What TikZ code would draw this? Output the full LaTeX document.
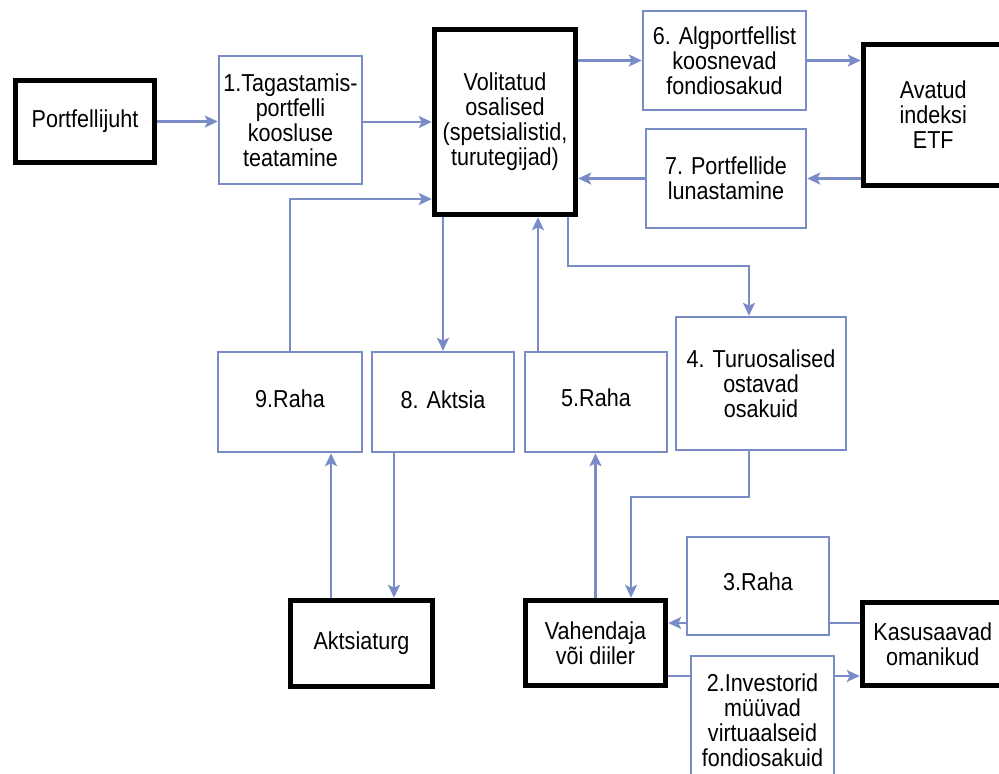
\documentclass[tikz,border=0pt]{standalone}
\usepackage{fontspec}
\setmainfont{Liberation Sans}[FakeStretch=0.88]
\usetikzlibrary{arrows.meta}
\definecolor{lineblue}{RGB}{122,140,200}
\begin{document}
\begin{tikzpicture}[x=1pt,y=-1pt,
  thickbox/.style={draw=black,line width=5.5pt,fill=white,inner sep=0pt,align=center},
  bluebox/.style={draw=lineblue,line width=2.4pt,fill=white,inner sep=0pt,align=center},
  arr/.style={draw=lineblue,line width=2.4pt,-{Stealth[length=13pt,width=12pt,inset=3pt]}},
  every node/.style={font=\fontsize{24.5}{25}\selectfont}]
\useasboundingbox (0,0) rectangle (999,774);
\fill[white] (0,0) rectangle (999,774);
\clip (0,0) rectangle (999,774);

% thick black boxes
\node[thickbox,minimum width=139pt,minimum height=82pt] (PJ) at (85,121.5) {Portfellijuht};
\node[thickbox,minimum width=141pt,minimum height=185pt] (Vol) at (505,122) {Volitatud\\osalised\\(spetsialistid,\\turutegijad)};
\node[thickbox,minimum width=139.5pt,minimum height=141pt] (ETF) at (933.25,115) {Avatud\\indeksi\\ETF};
\node[thickbox,minimum width=142pt,minimum height=86pt] (Akts) at (361.5,643.5) {Aktsiaturg};
\node[thickbox,minimum width=140pt,minimum height=85pt] (Vah) at (595.5,643) {Vahendaja\\või diiler};
\node[thickbox,minimum width=140.5pt,minimum height=83pt] (Kas) at (932.75,644) {Kasusaavad\\omanikud};

% blue boxes
\node[bluebox,minimum width=143pt,minimum height=128pt] (B1) at (290.5,120) {1.Tagastamis-\\portfelli\\koosluse\\teatamine};
\node[bluebox,minimum width=163pt,minimum height=99pt] (B6) at (724.5,60.5) {6. Algportfellist\\koosnevad\\fondiosakud};
\node[bluebox,minimum width=160pt,minimum height=99pt] (B7) at (726,178.5) {7. Portfellide\\lunastamine};
\node[bluebox,minimum width=144pt,minimum height=100pt] (B9) at (290,402) {\raisebox{7pt}{9.Raha}};
\node[bluebox,minimum width=142pt,minimum height=100pt] (B8) at (443,402) {\raisebox{4pt}{8. Aktsia}};
\node[bluebox,minimum width=142pt,minimum height=100pt] (B5) at (596,402) {\raisebox{9pt}{5.Raha}};
\node[bluebox,minimum width=170pt,minimum height=133pt] (B4) at (761,383.5) {4. Turuosalised\\ostavad\\osakuid};

% helper coordinates
\coordinate (k9) at (290,199);
\coordinate (k5) at (538,300);
\coordinate (k4a) at (568,266);
\coordinate (k4b) at (749,266);
\coordinate (k4c) at (749,497);
\coordinate (k4d) at (631,497);
\coordinate (ka) at (331,520);
\coordinate (kb) at (394,520);
\coordinate (k3) at (800,623);
\coordinate (k2) at (800,676);

% connectors
\draw[arr] (PJ.east) -- (PJ.east -| B1.west);
\draw[arr] (B1.east |- 0,122) -- (Vol.west |- 0,122);
\draw[arr] (Vol.east |- B6.west) -- (B6.west);
\draw[arr] (B6.east) -- (B6.east -| ETF.west);
\draw[arr] (ETF.west |- B7.east) -- (B7.east);
\draw[arr] (B7.west) -- (B7.west -| Vol.east);
\draw[arr] (B9.north) -- (k9) -- (k9 -| Vol.west);
\draw[arr] (Vol.south -| B8.north) -- (B8.north);
\draw[arr] (B5.north -| k5) -- (Vol.south -| k5);
\draw[arr] (Vol.south -| k4a) -- (k4a) -- (k4b) -- (B4.north -| k4b);
\draw[arr] (B4.south -| k4c) -- (k4c) -- (k4d) -- (Vah.north -| k4d);
\draw[arr] (Vah.north) -- (Vah.north |- B5.south);
\draw[arr] (Akts.north -| ka) -- (B9.south -| ka);
\draw[arr] (B8.south -| kb) -- (Akts.north -| kb);
\draw[arr] (Kas.west |- k3) -- (Vah.east |- k3);
\draw[arr] (Vah.east |- k2) -- (Kas.west |- k2);

% boxes drawn over the lower connectors
\node[bluebox,minimum width=142pt,minimum height=98pt] (B3) at (758,586) {\raisebox{8pt}{3.Raha}};
\node[bluebox,minimum width=143pt,minimum height=129pt] (B2) at (762.5,720.5) {2.Investorid\\müüvad\\virtuaalseid\\fondiosakuid};
\end{tikzpicture}
\end{document}
